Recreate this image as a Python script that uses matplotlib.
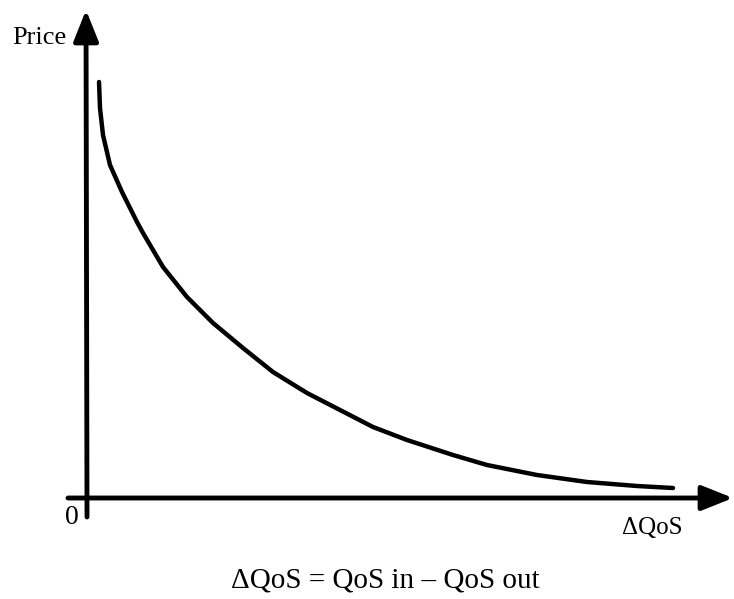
import matplotlib
matplotlib.use("Agg")
import matplotlib.pyplot as plt

plt.rcParams["font.family"] = ["Liberation Serif", "DejaVu Serif"]

# price curve (origin at the axis crossing, pixel-ish units)
dqos = [12, 13, 16, 23, 35, 50, 56, 76, 100, 126, 156, 186, 220, 253, 286,
        320, 366, 400, 450, 500, 550, 586]
price = [416, 390, 363, 333, 306, 276, 265, 231, 201, 175, 150, 126, 105, 88,
         71, 58, 43, 33, 23, 16, 12, 10]

x_label = "ΔQoS"
y_label = "Price"
origin_label = "0"
caption = "ΔQoS = QoS in – QoS out"

fig = plt.figure(figsize=(7.34, 5.99), dpi=100)
ax = fig.add_axes([0, 0, 1, 1])
ax.set_xlim(-87, 647)
ax.set_ylim(-101, 498)
ax.axis("off")

arrow = dict(arrowstyle="-|>,head_length=0.95,head_width=0.38", lw=3.5,
             color="black", shrinkA=0, shrinkB=0, mutation_scale=20)
ax.annotate("", xy=(-1, 488), xytext=(0, -19), arrowprops=arrow)
ax.annotate("", xy=(646, 0), xytext=(-19, 0), arrowprops=arrow)

ax.plot(dqos, price, color="black", lw=3.2, solid_capstyle="round",
        solid_joinstyle="round")

ax.text(-75, 460, y_label, fontsize=19, ha="left", va="center")
ax.text(-15, -19, origin_label, fontsize=20, ha="center", va="center")
ax.text(565, -30, x_label, fontsize=18, ha="center", va="center")
ax.text(298, -82, caption, fontsize=21, ha="center", va="center")

fig.savefig("out.png", dpi=100)
